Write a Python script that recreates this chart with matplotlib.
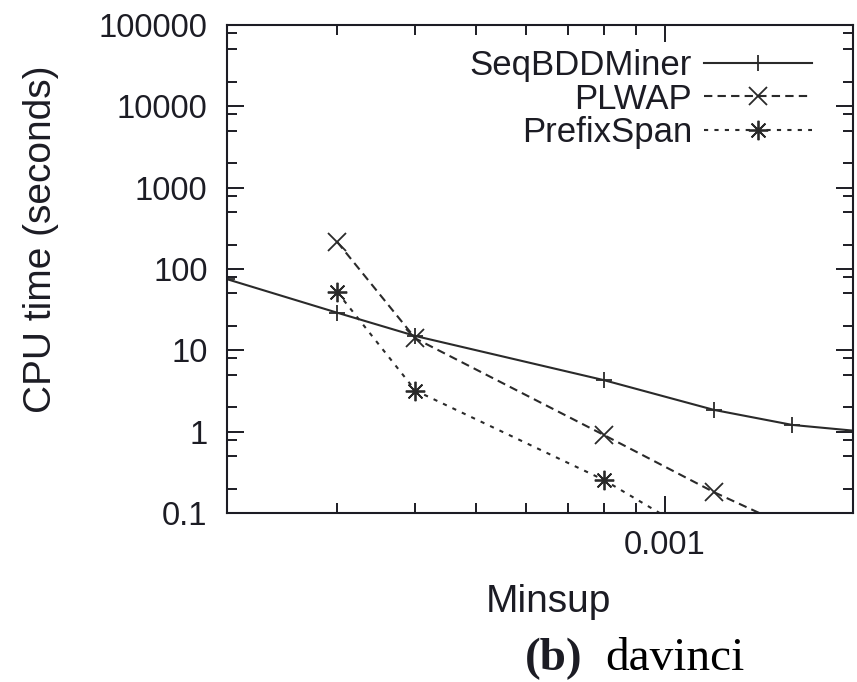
import matplotlib
matplotlib.use("Agg")
import matplotlib.pyplot as plt
from matplotlib.ticker import LogLocator, NullFormatter

plt.rcParams['font.family'] = ['Liberation Sans', 'DejaVu Sans']

# minsup values and CPU times (seconds)
seq_x = [0.0002, 0.0003, 0.0004, 0.0008, 0.0012, 0.0016, 0.002]
seq_y = [75, 29, 15, 4.3, 1.85, 1.21, 1.03]

plwap_x = [0.0003, 0.0004, 0.0008, 0.0012, 0.0016]
plwap_y = [215, 14, 0.91, 0.18, 0.065]

prefix_x = [0.0003, 0.0004, 0.0008, 0.0012]
prefix_y = [52, 3.2, 0.255, 0.04]

ytick_vals = [0.1, 1, 10, 100, 1000, 10000, 100000]
ytick_labels = ['0.1', '1', '10', '100', '1000', '10000', '100000']
xtick_vals = [0.001]
xtick_labels = ['0.001']

ink = '#1c1c24'
line_col = '#2a2a2a'

fig = plt.figure(figsize=(8.57, 6.82), dpi=100)
ax = fig.add_axes([227/857, 1 - 513/682, (853-227)/857, (513-25)/682])

ax.plot(seq_x, seq_y, color=line_col, lw=1.5, linestyle='-',
        marker='+', markersize=12, markeredgewidth=1.3, label='SeqBDDMiner')
ax.plot(plwap_x, plwap_y, color=line_col, lw=1.5, linestyle=(0, (4, 2.5)),
        marker='x', markersize=13, markeredgewidth=1.3, label='PLWAP')
ax.plot(prefix_x, prefix_y, color=line_col, lw=1.5, linestyle=(0, (2, 3)),
        marker=(8, 2, 0), markersize=14, markeredgewidth=1.3, label='PrefixSpan')

ax.set_xscale('log')
ax.set_yscale('log')
ax.set_xlim(0.0002, 0.002)
ax.set_ylim(0.1, 100000)

ax.set_xticks(xtick_vals, xtick_labels)
ax.set_yticks(ytick_vals, ytick_labels)
ax.xaxis.set_minor_locator(LogLocator(base=10, subs=range(2, 10)))
ax.xaxis.set_minor_formatter(NullFormatter())
ax.yaxis.set_minor_locator(LogLocator(base=10, subs=[2, 5, 8]))
ax.yaxis.set_minor_formatter(NullFormatter())

ax.tick_params(which='both', direction='in', top=True, right=True,
               color=ink, width=1.4, labelsize=23.5, labelcolor=ink)
ax.tick_params(which='major', length=12)
ax.tick_params(which='minor', length=7)
ax.tick_params(axis='x', which='major', pad=12)
ax.tick_params(axis='y', which='major', pad=14)
for s in ax.spines.values():
    s.set_linewidth(1.5)
    s.set_color(ink)

ax.set_xlabel('Minsup', fontsize=28, color=ink, va='center')
ax.xaxis.set_label_coords(0.513, -0.182)
ax.set_ylabel('CPU time (seconds)', fontsize=28, color=ink, va='center')
ax.yaxis.set_label_coords(-0.297, 0.56)

ax.legend(loc='upper right', bbox_to_anchor=(0.934, 0.951), frameon=False,
          markerfirst=False, fontsize=25, handlelength=3.1, handletextpad=0.35,
          labelspacing=0.02, borderpad=0, borderaxespad=0, labelcolor=ink)

fig.text(525/857, 1 - 670/682, '(b)', family='Liberation Serif', weight='bold',
         fontsize=34, color=ink, ha='left', va='baseline')
fig.text(605/857, 1 - 670/682, 'davinci', family='Liberation Serif',
         fontsize=34, color='black', ha='left', va='baseline')

fig.savefig('out.png', dpi=100)
